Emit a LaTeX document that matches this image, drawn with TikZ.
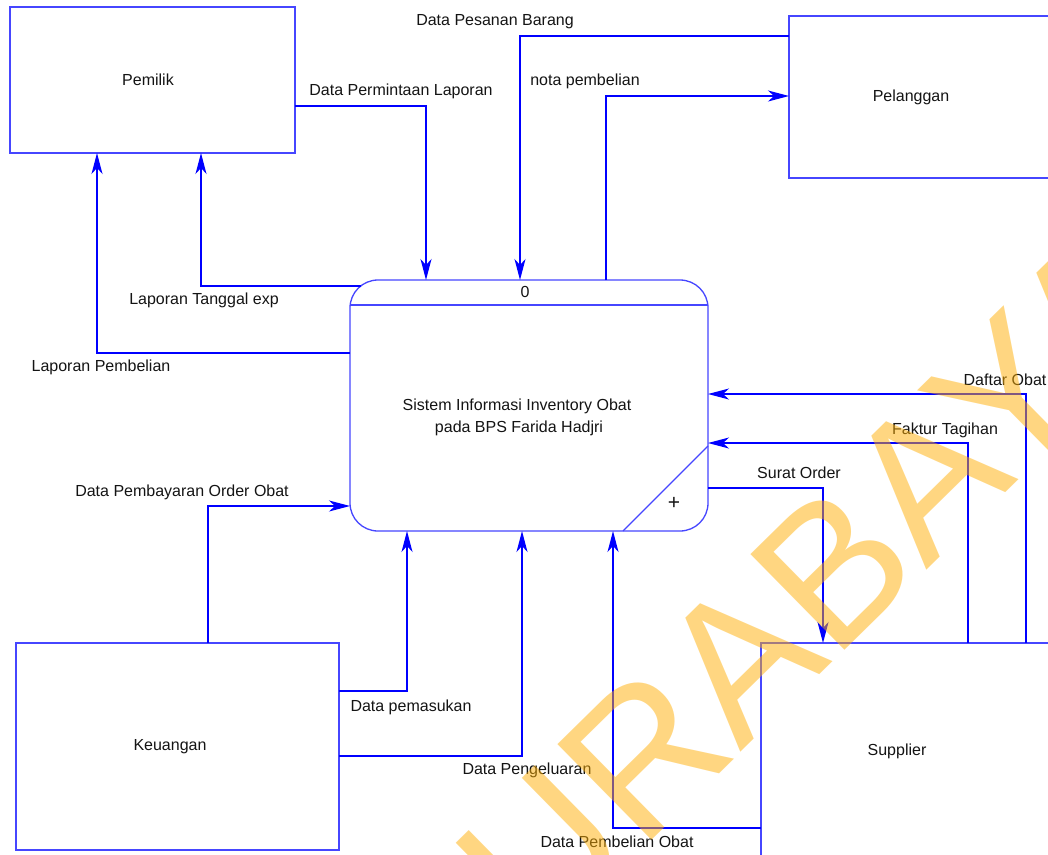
\documentclass[tikz,border=0pt]{standalone}
\usepackage{fontspec}
\setmainfont{Liberation Sans}
\usetikzlibrary{arrows.meta}
\definecolor{flowblue}{RGB}{0,0,255}
\definecolor{edgeblue}{RGB}{70,70,255}
\definecolor{wmark}{RGB}{255,175,5}
\definecolor{ink}{RGB}{20,20,20}
\newcommand\lblfont{\fontsize{16}{19}\selectfont}

\begin{document}
\begin{tikzpicture}[x=1pt,y=-1pt,
  entity/.style={draw=edgeblue, line width=1.4pt, fill=white, inner sep=0pt, outer sep=0pt, font=\lblfont, text=ink},
  procbox/.style={draw=edgeblue, line width=1.3pt, rounded corners=28pt, inner sep=0pt, outer sep=0pt, fill=white},
  flow/.style={draw=flowblue, line width=1.3pt, -{Stealth[length=21pt,width=11pt,inset=6pt]}},
  lbl/.style={font=\lblfont, text=ink, inner sep=0pt, text height=11.5pt, text depth=0pt},
]
\useasboundingbox (0,0) rectangle (1048,854);
\fill[white] (0,0) rectangle (1048,854);
\clip (0,0) rectangle (1048,854);

% external entities
\node[entity, minimum width=285pt, minimum height=146pt, anchor=north west] (pemilik) at (10,7) {};
\node[lbl] (pemilikT) at (148,80) {Pemilik};
\node[entity, minimum width=300pt, minimum height=162pt, anchor=north west] (pelanggan) at (789,16) {};
\node[lbl] (pelangganT) at (911,96) {Pelanggan};
\node[entity, minimum width=323pt, minimum height=207pt, anchor=north west] (keuangan) at (16,643) {};
\node[lbl] (keuanganT) at (170,745) {Keuangan};
\node[entity, minimum width=320pt, minimum height=260pt, anchor=north west] (supplier) at (761,643) {};
\node[lbl] (supplierT) at (897,750) {Supplier};

% process
\node[procbox, minimum width=358pt, minimum height=251pt, anchor=north west] (proc) at (350,280) {};
\draw[edgeblue, line width=1.3pt] (proc.west |- 0,305) -- (proc.east |- 0,305);
\draw[edgeblue, line width=1.1pt] (proc.east |- 0,446) -- (623,0 |- proc.south);
\node[lbl] (procnum) at (525,292) {0};
\node[lbl] (procA) at (517,405) {Sistem Informasi Inventory Obat};
\node[lbl] (procB) at (519,427) {pada BPS Farida Hadjri};
\node[font=\fontsize{21}{21}\selectfont, text=ink, inner sep=0pt] (procplus) at (674,503) {+};

% data flows
\draw[flow] (pemilik.east |- 0,106) -| (426,0 |- proc.north);
\draw[flow] ([shift={(11,6)}]proc.north west) -| (201,0 |- pemilik.south);
\draw[flow] (proc.west |- 0,353) -| (97,0 |- pemilik.south);
\draw[flow] (pelanggan.west |- 0,36) -| (520,0 |- proc.north);
\draw[flow] (606,0 |- proc.north) |- (pelanggan.west |- 0,96);
\draw[flow] (208,0 |- keuangan.north) |- (proc.west |- 0,506);
\draw[flow] (keuangan.east |- 0,691) -| (407,0 |- proc.south);
\draw[flow] (keuangan.east |- 0,756) -| (522,0 |- proc.south);
\draw[flow] (supplier.west |- 0,828) -| (613,0 |- proc.south);
\draw[flow] (proc.east |- 0,488) -| (823,0 |- supplier.north);
\draw[flow] (968,0 |- supplier.north) |- (proc.east |- 0,443);
\draw[flow] (1026,0 |- supplier.north) |- (proc.east |- 0,394);

% flow labels
\node[lbl] (l1) at (495,20) {Data Pesanan Barang};
\node[lbl] (l2) at (401,90) {Data Permintaan Laporan};
\node[lbl] (l3) at (585,80) {nota pembelian};
\node[lbl] (l4) at (204,299) {Laporan Tanggal exp};
\node[lbl] (l5) at (101,366) {Laporan Pembelian};
\node[lbl] (l6) at (1005,380) {Daftar Obat};
\node[lbl] (l7) at (945,429) {Faktur Tagihan};
\node[lbl] (l8) at (799,473) {Surat Order};
\node[lbl] (l9) at (182,491) {Data Pembayaran Order Obat};
\node[lbl] (l10) at (411,706) {Data pemasukan};
\node[lbl] (l11) at (527,769) {Data Pengeluaran};
\node[lbl] (l12) at (617,842) {Data Pembelian Obat};

% watermark
\node[rotate=44.5, anchor=base west, text=wmark, text opacity=0.5, inner sep=0pt,
      font=\fontsize{195}{195}\selectfont] (wm) at (447,1041) {SURABAYA};
\end{tikzpicture}
\end{document}
